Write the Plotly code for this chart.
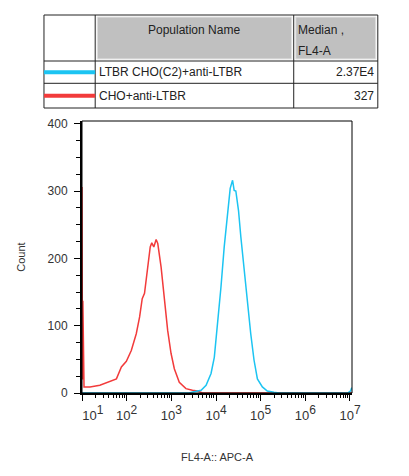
import plotly.graph_objects as go

# histogram outlines (FL4-A intensity, count)
red_x = [10, 10.25, 10.45, 11.1, 15.1, 25.1, 35.4, 45.7, 59, 76.2, 98.4, 127, 164, 195, 223,
         251, 297, 337, 365, 405, 457, 497, 590, 698, 828, 984, 1167, 1507, 2123, 2972,
         3837, 5000, 11000000]
red_y = [306, 20, 137, 9, 9, 11.5, 15.5, 18, 21, 38.6, 47, 63, 88, 113, 140,
         148, 187, 217, 223, 217, 228, 222, 187, 143, 93, 59, 36, 16, 6.5, 4,
         3, 0, 0]

blue_x = [10, 2500, 3034, 4645, 5998, 7745, 9162, 10914, 12912, 15276, 18197, 20797, 23496,
          25527, 27797, 31915, 35975, 42560, 50582, 59979, 70958, 84528, 109144, 140929,
          197697, 260000, 8900000, 10300000, 11000000]
blue_y = [0, 0, 1.5, 4, 11.4, 29, 53, 103, 157, 217, 271, 304, 316,
          301, 300, 271, 232, 182, 133, 88, 49, 21, 9, 3,
          1, 0, 0, 3, 8]

populations = ["LTBR CHO(C2)+anti-LTBR", "CHO+anti-LTBR"]
medians = ["2.37E4", "327"]
pop_colors = ["#1cc4f2", "#f23b3b"]

x_ticks = [10, 100, 1000, 10000, 100000, 1000000, 10000000]
x_text = ["10<sup><span style='font-size:12px'>%d</span></sup>" % p for p in range(1, 8)]
x_text[0] = "\u00a0\u00a0\u00a0\u00a0\u00a0\u00a0" + x_text[0]
x_minor = [m * d for d in x_ticks for m in range(2, 10)]
y_ticks = [0, 100, 200, 300, 400]

# the page body adds an 8px margin, so layout is given in window pixels minus 8
OFF = 8
W, H = 409 - OFF, 476 - OFF
L, R, T, B = 80 - OFF, 352 - OFF, 121 - OFF, 393 - OFF
FONT = "Liberation Sans, Arial, sans-serif"


def px(x):
    return (x - OFF - L) / (R - L)


def py(y):
    return (B - (y - OFF)) / (B - T)


fig = go.Figure()
fig.add_trace(go.Scatter(x=red_x, y=red_y, mode="lines",
                         line=dict(color=pop_colors[1], width=1.5), name=populations[1]))
fig.add_trace(go.Scatter(x=blue_x, y=blue_y, mode="lines",
                         line=dict(color=pop_colors[0], width=1.5), name=populations[0]))

shapes = []
# plot frame (thin top/right)
shapes.append(dict(type="rect", xref="paper", yref="paper", x0=0, x1=1, y0=0, y1=1,
                   line=dict(color="black", width=1)))

# table above the plot (window pixel positions)
tl, tr, tt, tb = 41.7, 378, 15, 108
c1, c2 = 93.3, 293.3
r1, r2 = 61, 83.3
for x0, x1 in [(c1 + 2, c2 - 2), (c2 + 2, tr - 2)]:
    shapes.append(dict(type="rect", xref="paper", yref="paper",
                       x0=px(x0), x1=px(x1), y0=py(r1 - 2), y1=py(tt + 2),
                       fillcolor="#c0c0c0", line=dict(color="#e4e4e4", width=1)))
shapes.append(dict(type="rect", xref="paper", yref="paper", x0=px(tl), x1=px(tr),
                   y0=py(tb), y1=py(tt), line=dict(color="#222", width=1)))
for cx in [c1, c2]:
    shapes.append(dict(type="line", xref="paper", yref="paper", x0=px(cx), x1=px(cx),
                       y0=py(tb), y1=py(tt), line=dict(color="#222", width=1)))
for ry in [r1, r2]:
    shapes.append(dict(type="line", xref="paper", yref="paper", x0=px(tl), x1=px(tr),
                       y0=py(ry), y1=py(ry), line=dict(color="#222", width=1)))

annotations = [
    dict(text="Population Name", x=px((c1 + c2) / 2), y=py(30), xanchor="center"),
    dict(text="Median ,", x=px(c2 + 2), y=py(30), xanchor="left"),
    dict(text="FL4-A", x=px(c2 + 2), y=py(51), xanchor="left"),
]
row_mid = [(r1 + r2) / 2, (r2 + tb) / 2]
for i, name in enumerate(populations):
    ym = row_mid[i]
    shapes.append(dict(type="line", xref="paper", yref="paper", x0=px(tl), x1=px(c1),
                       y0=py(ym), y1=py(ym), line=dict(color=pop_colors[i], width=4)))
    annotations.append(dict(text=name, x=px(c1 + 2), y=py(ym), xanchor="left"))
    annotations.append(dict(text=medians[i], x=px(tr - 2), y=py(ym), xanchor="right"))

for a in annotations:
    a.update(xref="paper", yref="paper", yanchor="middle", showarrow=False,
             font=dict(family=FONT, size=12, color="#222"))

fig.update_layout(
    width=W, height=H,
    margin=dict(l=L, r=W - R, t=T, b=H - B),
    paper_bgcolor="white", plot_bgcolor="white",
    showlegend=False,
    font=dict(family=FONT, size=12, color="#333"),
    shapes=shapes,
    annotations=annotations,
)
fig.update_xaxes(
    type="log", range=[1, 7.045],
    tickmode="array", tickvals=x_ticks, ticktext=x_text,
    ticks="outside", ticklen=6, tickwidth=1, tickcolor="black",
    minor=dict(tickvals=x_minor, ticks="outside", ticklen=3, tickcolor="black", tickwidth=1),
    showline=True, linecolor="black", linewidth=2, showgrid=False, zeroline=False,
    tickfont=dict(size=13, color="#333"), ticklabelstandoff=3,
    title=dict(text="FL4-A:: APC-A", font=dict(size=11, color="#333"), standoff=32),
)
fig.update_yaxes(
    range=[0, 404],
    tickvals=y_ticks,
    ticks="outside", ticklen=6, tickwidth=1, tickcolor="black",
    minor=dict(dtick=25, ticks="outside", ticklen=4, tickcolor="black", tickwidth=1),
    showline=True, linecolor="black", linewidth=2, showgrid=False, zeroline=False,
    tickfont=dict(size=12, color="#333"), ticklabelstandoff=4,
    title=dict(text="Count", font=dict(size=11, color="#333"), standoff=20),
)

fig.write_html("out.html")
